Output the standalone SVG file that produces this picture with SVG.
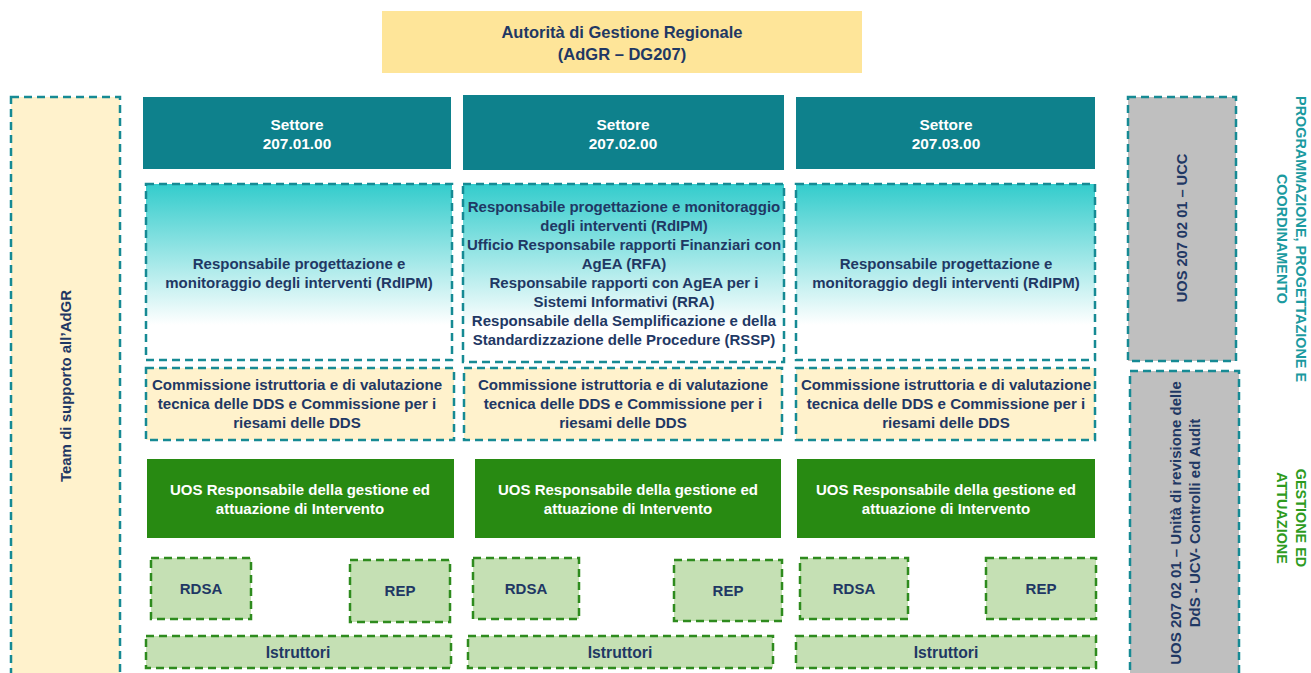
<svg xmlns="http://www.w3.org/2000/svg" width="1311" height="673" viewBox="0 0 1311 673">
<style>
text{font-family:"Liberation Sans",Arial,sans-serif;font-weight:bold;text-anchor:middle;dominant-baseline:central}
.t{fill:#1F3864;font-size:15px}
.w{fill:#FFFFFF;font-size:15px}
.ti{font-size:16.5px}
.se{font-size:15.4px}
.cm{font-size:15.1px}
.is{font-size:15.7px}
.set{fill:#0E818C}
.grad{fill:url(#g1);stroke:#168A94;stroke-width:2.5;stroke-dasharray:8 5}
.comm{fill:#FFF2CC;stroke:#168A94;stroke-width:2.5;stroke-dasharray:8 5}
.uos{fill:#288A12}
.lg{fill:#C5E0B4;stroke:#2E8B1E;stroke-width:2.5;stroke-dasharray:8 5}
.gray{fill:#BFBFBF;stroke:#168A94;stroke-width:2.5;stroke-dasharray:8 5}
.lp{fill:#1B9AA0;font-size:14.4px}
.lgr{fill:#2E9B1E;font-size:14.4px}
</style>
<defs>
<linearGradient id="g1" x1="0" y1="0" x2="0" y2="1">
<stop offset="0" stop-color="#33CCCC"/>
<stop offset="0.8" stop-color="#FFFFFF"/>
<stop offset="1" stop-color="#FFFFFF"/>
</linearGradient>
</defs>
<g id="adgr">
<rect x="382" y="11" width="480" height="62" fill="#FEE599"/>
<text class="t ti" x="622" y="32">Autorità di Gestione Regionale</text>
<text class="t ti" x="622" y="54">(AdGR – DG207)</text>
</g>
<g id="team">
<rect x="11" y="97" width="109" height="590" fill="#FFF2CC" stroke="#168A94" stroke-width="2.5" stroke-dasharray="8 5"/>
<text class="t" transform="translate(65,386) rotate(-90)">Team di supporto all’AdGR</text>
</g>
<g id="settore1"><rect class="set" x="143" y="97" width="308" height="72"/><text class="w se" x="297" y="124">Settore</text><text class="w se" x="297" y="143">207.01.00</text></g>
<g id="settore2"><rect class="set" x="463" y="95" width="321" height="75"/><text class="w se" x="623" y="124">Settore</text><text class="w se" x="623" y="143">207.02.00</text></g>
<g id="settore3"><rect class="set" x="796" y="97" width="299" height="72"/><text class="w se" x="946" y="124">Settore</text><text class="w se" x="946" y="143">207.03.00</text></g>
<g id="rdipm1"><rect class="grad" x="146" y="184" width="306" height="176"/><text class="t" x="299" y="263">Responsabile progettazione e</text><text class="t" x="299" y="282">monitoraggio degli interventi (RdIPM)</text></g>
<g id="rdipm2"><rect class="grad" x="463" y="184" width="321" height="178"/>
<text class="t" x="624" y="206">Responsabile progettazione e monitoraggio</text>
<text class="t" x="624" y="225">degli interventi (RdIPM)</text>
<text class="t" x="624" y="244">Ufficio Responsabile rapporti Finanziari con</text>
<text class="t" x="624" y="263">AgEA (RFA)</text>
<text class="t" x="624" y="282">Responsabile rapporti con AgEA per i</text>
<text class="t" x="624" y="301">Sistemi Informativi (RRA)</text>
<text class="t" x="624" y="320">Responsabile della Semplificazione e della</text>
<text class="t" x="624" y="339">Standardizzazione delle Procedure (RSSP)</text>
</g>
<g id="rdipm3"><rect class="grad" x="796" y="184" width="299" height="176"/><text class="t" x="946" y="263">Responsabile progettazione e</text><text class="t" x="946" y="282">monitoraggio degli interventi (RdIPM)</text></g>
<g id="comm1"><rect class="comm" x="146" y="368" width="308" height="72"/><text class="t cm" x="297" y="384">Commissione istruttoria e di valutazione</text><text class="t cm" x="297" y="403">tecnica delle DDS e Commissione per i</text><text class="t cm" x="297" y="422">riesami delle DDS</text></g>
<g id="comm2"><rect class="comm" x="464" y="368" width="318" height="72"/><text class="t cm" x="623" y="384">Commissione istruttoria e di valutazione</text><text class="t cm" x="623" y="403">tecnica delle DDS e Commissione per i</text><text class="t cm" x="623" y="422">riesami delle DDS</text></g>
<g id="comm3"><rect class="comm" x="796" y="368" width="299" height="72"/><text class="t cm" x="946" y="384">Commissione istruttoria e di valutazione</text><text class="t cm" x="946" y="403">tecnica delle DDS e Commissione per i</text><text class="t cm" x="946" y="422">riesami delle DDS</text></g>
<g id="uos1"><rect class="uos" x="147" y="459" width="307" height="79"/><text class="w" x="300" y="489">UOS Responsabile della gestione ed</text><text class="w" x="300" y="508">attuazione di Intervento</text></g>
<g id="uos2"><rect class="uos" x="475" y="459" width="306" height="79"/><text class="w" x="628" y="489">UOS Responsabile della gestione ed</text><text class="w" x="628" y="508">attuazione di Intervento</text></g>
<g id="uos3"><rect class="uos" x="797" y="459" width="298" height="79"/><text class="w" x="946" y="489">UOS Responsabile della gestione ed</text><text class="w" x="946" y="508">attuazione di Intervento</text></g>
<g id="rdsa1"><rect class="lg" x="151" y="558" width="100" height="61"/><text class="t" x="201" y="588">RDSA</text></g>
<g id="rep1"><rect class="lg" x="350" y="560" width="100" height="62"/><text class="t" x="400" y="590">REP</text></g>
<g id="rdsa2"><rect class="lg" x="473" y="558" width="106" height="61"/><text class="t" x="526" y="588">RDSA</text></g>
<g id="rep2"><rect class="lg" x="674" y="560" width="108" height="61"/><text class="t" x="728" y="590">REP</text></g>
<g id="rdsa3"><rect class="lg" x="800" y="558" width="108" height="61"/><text class="t" x="854" y="588">RDSA</text></g>
<g id="rep3"><rect class="lg" x="986" y="558" width="110" height="61"/><text class="t" x="1041" y="588">REP</text></g>
<g id="istr1"><rect class="lg" x="146" y="636" width="305" height="32"/><text class="t is" x="298" y="652">Istruttori</text></g>
<g id="istr2"><rect class="lg" x="468" y="636" width="305" height="32"/><text class="t is" x="620" y="652">Istruttori</text></g>
<g id="istr3"><rect class="lg" x="796" y="636" width="300" height="32"/><text class="t is" x="946" y="652">Istruttori</text></g>
<g id="ucc"><rect class="gray" x="1128" y="97" width="108" height="264"/><text class="t" style="font-size:14.6px" transform="translate(1182,228) rotate(-90)">UOS  207 02 01 – UCC</text></g>
<g id="ucv"><rect class="gray" x="1130" y="371" width="109" height="320"/><text class="t" transform="translate(1175,523) rotate(-90)">UOS  207 02 01 – Unità di revisione delle</text><text class="t" transform="translate(1194,523) rotate(-90)">DdS - UCV- Controlli ed Audit</text></g>
<g id="label-prog"><text class="lp" transform="translate(1301,239) rotate(90)">PROGRAMMAZIONE, PROGETTAZIONE E</text><text class="lp" transform="translate(1282,239) rotate(90)">COORDINAMENTO</text></g>
<g id="label-gest"><text class="lgr" transform="translate(1301,518) rotate(90)">GESTIONE ED</text><text class="lgr" transform="translate(1282,518) rotate(90)">ATTUAZIONE</text></g>
<g id="connectors"></g>
</svg>
